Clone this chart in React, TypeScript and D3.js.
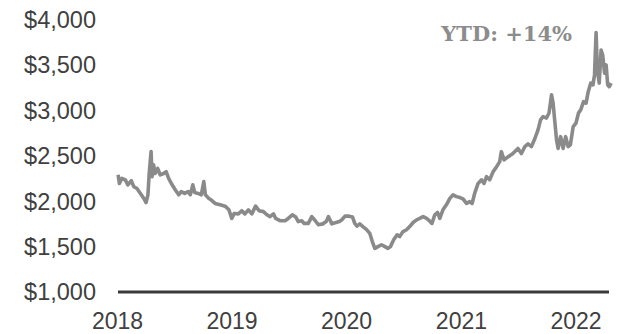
import React from "react";
import * as d3 from "d3";

const dates: string[] = [
  "2018-01-03","2018-01-07","2018-01-15","2018-01-26","2018-02-03","2018-02-14","2018-02-22","2018-03-04","2018-03-15","2018-03-26",
  "2018-04-02","2018-04-08","2018-04-12","2018-04-18","2018-04-21","2018-04-26","2018-05-01","2018-05-09","2018-05-17","2018-05-28",
  "2018-06-05","2018-06-13","2018-06-24","2018-07-04","2018-07-15","2018-07-23","2018-08-03","2018-08-14","2018-08-21","2018-08-29",
  "2018-09-04","2018-09-15","2018-09-25","2018-10-03","2018-10-08","2018-10-19","2018-10-26","2018-11-08","2018-11-24","2018-12-10",
  "2018-12-22","2018-12-31","2019-01-08","2019-01-21","2019-02-01","2019-02-11","2019-02-22","2019-03-05","2019-03-17","2019-03-28",
  "2019-04-11","2019-04-22","2019-05-02","2019-05-13","2019-05-20","2019-06-03","2019-06-19","2019-06-29","2019-07-12","2019-07-23",
  "2019-07-31","2019-08-11","2019-08-19","2019-09-01","2019-09-12","2019-09-22","2019-10-03","2019-10-17","2019-10-28","2019-11-04",
  "2019-11-15","2019-11-28","2019-12-09","2019-12-17","2019-12-27","2020-01-09","2020-01-20","2020-01-27","2020-02-03","2020-02-12",
  "2020-02-22","2020-03-04","2020-03-15","2020-03-23","2020-03-31","2020-04-10","2020-04-21","2020-05-02","2020-05-12","2020-05-20",
  "2020-05-30","2020-06-10","2020-06-18","2020-06-29","2020-07-10","2020-07-20","2020-07-31","2020-08-11","2020-08-21","2020-09-01",
  "2020-09-12","2020-09-22","2020-09-29","2020-10-08","2020-10-17","2020-10-24","2020-11-03","2020-11-14","2020-11-25","2020-12-05",
  "2020-12-16","2020-12-27","2021-01-06","2021-01-17","2021-01-27","2021-02-04","2021-02-12","2021-02-23","2021-03-06","2021-03-14",
  "2021-03-22","2021-04-01","2021-04-12","2021-04-23","2021-05-03","2021-05-08","2021-05-17","2021-05-30","2021-06-14","2021-06-30",
  "2021-07-11","2021-07-22","2021-08-01","2021-08-12","2021-08-23","2021-09-02","2021-09-10","2021-09-18","2021-09-29","2021-10-07",
  "2021-10-15","2021-10-20","2021-10-25","2021-10-31","2021-11-05","2021-11-13","2021-11-21","2021-11-29","2021-12-07","2021-12-14",
  "2021-12-23","2022-01-01","2022-01-09","2022-01-16","2022-01-25","2022-02-02","2022-02-09","2022-02-17","2022-02-24","2022-03-01",
  "2022-03-06","2022-03-10","2022-03-16","2022-03-22","2022-03-27","2022-04-02","2022-04-07","2022-04-12","2022-04-17","2022-04-23"
];

const values: number[] = [
  2290,2195,2250,2235,2180,2225,2160,2140,2085,2030,
  1985,2070,2305,2545,2270,2400,2305,2360,2290,2305,
  2325,2250,2180,2125,2070,2105,2085,2105,2070,2180,
  2095,2085,2070,2215,2070,2030,2015,1975,1960,1945,
  1905,1810,1865,1860,1895,1860,1905,1860,1945,1895,
  1885,1850,1830,1860,1810,1785,1785,1810,1850,1825,
  1775,1785,1755,1755,1830,1790,1740,1750,1775,1830,
  1750,1765,1775,1795,1835,1835,1825,1755,1725,1750,
  1720,1690,1645,1555,1480,1500,1520,1500,1480,1500,
  1575,1630,1610,1665,1685,1720,1765,1795,1810,1830,
  1810,1780,1755,1850,1875,1810,1905,1960,2030,2070,
  2050,2040,2025,1975,1995,1975,2085,2195,2235,2195,
  2270,2235,2325,2380,2435,2545,2455,2490,2525,2580,
  2525,2600,2630,2600,2690,2785,2895,2930,2915,2970,
  3170,3080,2895,2675,2580,2710,2580,2710,2600,2620,
  2820,2860,2970,3005,3095,3080,3205,3300,3280,3390,
  3855,3445,3300,3665,3610,3410,3500,3280,3260,3300
];

const yTicks: number[] = [1000, 1500, 2000, 2500, 3000, 3500, 4000];
const xTickYears: number[] = [2018, 2019, 2020, 2021, 2022];
const annotation = "YTD: +14%";

export default function App() {
  const width = 619;
  const height = 334;
  const parse = d3.timeParse("%Y-%m-%d");
  const data = dates.map((d, i) => ({ date: parse(d) as Date, value: values[i] }));

  const x = d3
    .scaleTime()
    .domain([new Date(2018, 0, 1), new Date(2022, 0, 1)])
    .range([117.5, 576]);
  const y = d3.scaleLinear().domain([1000, 4000]).range([292, 19.5]);

  const line = d3
    .line<{ date: Date; value: number }>()
    .x((d) => x(d.date))
    .y((d) => y(d.value))
    .curve(d3.curveLinear);

  const fmt = (v: number) => "$" + d3.format(",")(v);

  return (
    <svg
      width={width}
      height={height}
      style={{ position: "absolute", left: 0, top: 0, background: "#fff" }}
    >
      <path d={line(data) || ""} fill="none" stroke="#8a8a8a" strokeWidth={3.6} strokeLinejoin="round" />
      <line x1={118} x2={609} y1={y(1000)} y2={y(1000)} stroke="#3a3a3a" strokeWidth={3} />
      {yTicks.map((t) => (
        <text
          key={t}
          x={96}
          y={y(t)}
          dy="0.36em"
          textAnchor="end"
          fontFamily="'Liberation Sans', Arial, sans-serif"
          fontSize={23.5}
          fill="#404040"
        >
          {fmt(t)}
        </text>
      ))}
      {xTickYears.map((yr) => (
        <text
          key={yr}
          x={x(new Date(yr, 0, 1))}
          y={329}
          textAnchor="middle"
          fontFamily="'Liberation Sans', Arial, sans-serif"
          fontSize={23}
          fill="#404040"
        >
          {yr}
        </text>
      ))}
      <text
        x={572}
        y={41}
        textAnchor="end"
        fontFamily="'DejaVu Serif', 'Liberation Serif', serif"
        fontWeight="bold"
        fontSize={21}
        fill="#8c8c8c"
      >
        {annotation}
      </text>
    </svg>
  );
}
